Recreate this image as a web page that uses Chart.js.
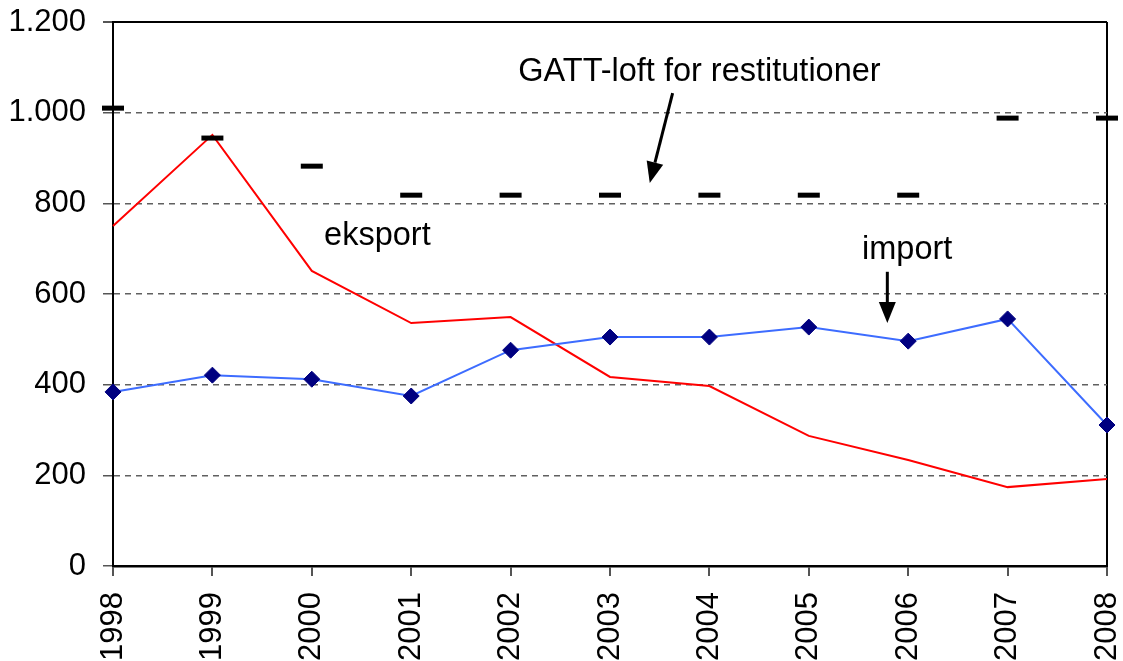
<!doctype html>
<html lang="da">
<head>
  <meta charset="utf-8">
  <title>GATT-loft, eksport og import</title>
  <style>
    body { margin: 0; background: #fff; }
    #wrap { width: 1123px; height: 661px; }
  </style>
</head>
<body>
  <div id="wrap">
    <canvas id="myChart"></canvas>
  </div>
  <script src="https://cdn.jsdelivr.net/npm/chart.js"></script>
  <script>
    // values
    const years = ['1998','1999','2000','2001','2002','2003','2004','2005','2006','2007','2008'];
    const eksport = [750, 951, 651, 536, 549, 417, 397, 287, 234, 174, 192];
    const importVals = [384, 421, 412, 375, 476, 505, 505, 527, 496, 545, 311];
    const gattLoft = [1010, 944, 882, 818, 818, 818, 818, 818, 818, 988, 988];
    const yTicks = [0, 200, 400, 600, 800, 1000, 1200];

    const FONT = '"Liberation Sans", Arial, sans-serif';

    // labels + arrows placed in data space (x = year index, y = value)
    const notes = [
      { text: 'GATT-loft for restitutioner', x: 5.9, y: 1090 },
      { text: 'eksport', x: 2.66, y: 728 },
      { text: 'import', x: 7.99, y: 697 }
    ];
    const arrows = [
      { from: [5.63, 1043], to: [5.40, 845] },
      { from: [7.79, 649], to: [7.79, 536] }
    ];

    const annotate = {
      id: 'annotate',
      afterDatasetsDraw(chart) {
        const { ctx, scales: { x, y } } = chart;
        ctx.save();
        ctx.fillStyle = '#000';
        ctx.strokeStyle = '#000';
        ctx.font = '32.5px ' + FONT;
        ctx.textAlign = 'center';
        ctx.textBaseline = 'middle';
        notes.forEach(n => ctx.fillText(n.text, x.getPixelForValue(n.x), y.getPixelForValue(n.y)));
        arrows.forEach(a => {
          const x1 = x.getPixelForValue(a.from[0]), y1 = y.getPixelForValue(a.from[1]);
          const x2 = x.getPixelForValue(a.to[0]), y2 = y.getPixelForValue(a.to[1]);
          const ang = Math.atan2(y2 - y1, x2 - x1);
          const len = 21, half = 8.5;
          const bx = x2 - len * Math.cos(ang), by = y2 - len * Math.sin(ang);
          ctx.lineWidth = 3;
          ctx.beginPath();
          ctx.moveTo(x1, y1);
          ctx.lineTo(bx, by);
          ctx.stroke();
          ctx.beginPath();
          ctx.moveTo(x2, y2);
          ctx.lineTo(bx + half * Math.sin(ang), by - half * Math.cos(ang));
          ctx.lineTo(bx - half * Math.sin(ang), by + half * Math.cos(ang));
          ctx.closePath();
          ctx.fill();
        });
        ctx.restore();
      }
    };

    const data = {
      labels: years,
      datasets: [
        {
          label: 'GATT-loft for restitutioner',
          data: gattLoft,
          showLine: false,
          pointStyle: 'line',
          pointRadius: 11,
          pointBorderWidth: 5,
          borderColor: '#000',
          backgroundColor: '#000',
          clip: false
        },
        {
          label: 'import',
          data: importVals,
          borderColor: '#3d6cff',
          borderWidth: 2,
          pointStyle: 'rectRot',
          pointRadius: 8,
          pointBackgroundColor: '#000080',
          pointBorderColor: '#000080',
          pointBorderWidth: 1,
          tension: 0,
          clip: false
        },
        {
          label: 'eksport',
          data: eksport,
          borderColor: '#ff0000',
          borderWidth: 2,
          pointRadius: 0,
          tension: 0,
          clip: false
        }
      ]
    };

    const config = {
      type: 'line',
      data: data,
      options: {
        responsive: true,
        maintainAspectRatio: false,
        animation: false,
        events: [],
        layout: { padding: 0 },
        plugins: {
          legend: { display: false },
          tooltip: { enabled: false }
        },
        scales: {
          x: {
            afterFit: axis => {
              axis.height = 95;
              axis.paddingLeft = 0;
              axis.paddingRight = 15;
            },
            grid: {
              color: c => c.index === years.length - 1 ? '#000' : 'rgba(0,0,0,0)',
              lineWidth: 2,
              tickLength: 10,
              tickColor: '#555'
            },
            border: { color: '#000', width: 2.5 },
            ticks: {
              color: '#000',
              font: { family: FONT, size: 31 },
              minRotation: 90,
              maxRotation: 90,
              autoSkip: false,
              padding: 16
            }
          },
          y: {
            min: 0,
            max: 1200,
            afterBuildTicks: axis => { axis.ticks = yTicks.map(v => ({ value: v })); },
            afterFit: axis => {
              axis.width = 113;
              axis.paddingTop = 22;
              axis.paddingBottom = 0;
            },
            grid: {
              color: c => {
                const v = c.tick ? c.tick.value : null;
                if (v === 1200) return '#000';
                if (v === 0) return 'rgba(0,0,0,0)';
                return '#606060';
              },
              lineWidth: c => (c.tick && c.tick.value === 1200) ? 2 : 1.5,
              tickLength: 10,
              tickColor: '#555'
            },
            border: {
              color: '#000',
              width: 2,
              dash: c => (c.tick && c.tick.value !== 1200) ? [6, 5] : []
            },
            ticks: {
              color: '#000',
              font: { family: FONT, size: 31 },
              padding: 17,
              callback: v => String(v).replace(/\B(?=(\d{3})+(?!\d))/g, '.')
            }
          }
        }
      },
      plugins: [annotate]
    };

    const myChart = new Chart(document.getElementById('myChart'), config);
  </script>
</body>
</html>
